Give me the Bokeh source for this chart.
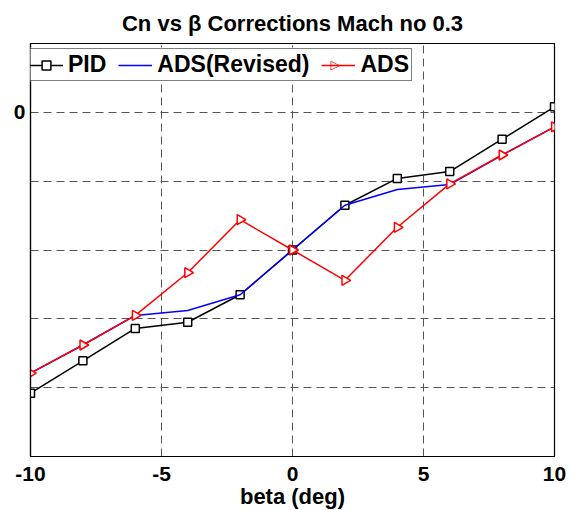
import numpy as np
from bokeh.plotting import figure
from bokeh.models import FixedTicker, Legend, LegendItem, Range1d, Label, BoxAnnotation
from bokeh.embed import file_html
from bokeh.resources import INLINE

# ---- data (y in grid units; only the 0 tick is labelled) ----
beta = [-10, -8, -6, -4, -2, 0, 2, 4, 6, 8, 10]
cn_pid = [-4.08, -3.61, -3.14, -3.05, -2.65, -2.0, -1.35, -0.96, -0.86, -0.39, 0.08]
cn_ads_revised = [-3.79, -3.38, -2.95, -2.88, -2.65, -2.0, -1.35, -1.12, -1.05, -0.62, -0.21]
cn_ads = [-3.79, -3.38, -2.95, -2.33, -1.56, -2.0, -2.44, -1.67, -1.04, -0.62, -0.21]
x_ticks = [-10, -5, 0, 5, 10]
x_tick_labels = {-10: "-10", -5: "-5", 0: "0", 5: "5", 10: "10"}
y_ticks = [-4, -3, -2, -1, 0]
y_tick_labels = {-4: "", -3: "", -2: "", -1: "", 0: "0"}

FONT = "Liberation Sans"

p = figure(frame_width=524, frame_height=413,
           x_range=Range1d(-10, 10), y_range=Range1d(-5, 1),
           output_backend="svg", toolbar_location=None,
           min_border_left=30, min_border_right=15,
           min_border_top=43, min_border_bottom=54,
           background_fill_color="white", border_fill_color="white")

p.title.text = "Cn vs \u03b2 Corrections Mach no 0.3"
p.title.align = "center"
p.title.text_font = FONT
p.title.text_font_size = "22px"
p.title.text_font_style = "bold"
p.title.text_color = "black"
p.title.standoff = 16

p.outline_line_color = "black"
p.outline_line_width = 1.2
p.outline_line_alpha = 1

for ax in (p.xaxis[0], p.yaxis[0]):
    ax.axis_line_color = "black"
    ax.axis_line_width = 1.2
    ax.major_tick_in = 0
    ax.major_tick_out = 0
    ax.minor_tick_in = 0
    ax.minor_tick_out = 0
    ax.major_label_text_font = FONT
    ax.major_label_text_font_size = "21px"
    ax.major_label_text_font_style = "bold"
    ax.major_label_text_color = "black"

p.xaxis.ticker = FixedTicker(ticks=x_ticks)
p.xaxis.major_label_overrides = x_tick_labels
p.xaxis.major_label_standoff = 10
p.xaxis.axis_label = "beta (deg)"
p.xaxis.axis_label_text_font = FONT
p.xaxis.axis_label_text_font_size = "22px"
p.xaxis.axis_label_text_font_style = "bold"
p.xaxis.axis_label_text_color = "black"
p.xaxis.axis_label_standoff = 0

p.yaxis.ticker = FixedTicker(ticks=y_ticks)
p.yaxis.major_label_overrides = y_tick_labels
p.yaxis.major_label_standoff = 5

for g in (p.xgrid[0], p.ygrid[0]):
    g.grid_line_color = "#555555"
    g.grid_line_dash = "8 5"
    g.grid_line_width = 1

r_pid = p.line(beta, cn_pid, line_color="black", line_width=1.5)
m_pid = p.scatter(beta, cn_pid, marker="square", size=8, line_color="black",
                  fill_color="white", line_width=1.5)
r_rev = p.line(beta, cn_ads_revised, line_color="blue", line_width=1.5)
r_ads = p.line(beta, cn_ads, line_color="red", line_width=1.5)
m_ads = p.scatter(beta, cn_ads, marker="triangle", size=10, angle=-np.pi / 2,
                  line_color="red", fill_color="white", line_width=1.5)

# white backing for the legend (legend itself is transparent so the symbol below shows)
backing = BoxAnnotation(left=-4, right=381, bottom=375, top=409,
                        left_units="screen", right_units="screen",
                        bottom_units="screen", top_units="screen",
                        fill_color="white", fill_alpha=1, line_color=None,
                        level="annotation")
p.add_layout(backing, "center")

# right-pointing triangle symbol for the ADS legend entry (Bokeh legends ignore marker angle)
tri = Label(x=305, y=392, x_units="screen", y_units="screen", text="\u25b7",
            text_font="DejaVu Sans", text_font_size="13px", text_color="red",
            text_align="center", text_baseline="middle", level="annotation")
p.add_layout(tri, "center")

legend = Legend(items=[
    LegendItem(label="PID", renderers=[r_pid, m_pid]),
    LegendItem(label="ADS(Revised)", renderers=[r_rev]),
    LegendItem(label="ADS", renderers=[r_ads]),
], location=(-4, 375), orientation="horizontal")
legend.label_text_font = FONT
legend.label_text_font_size = "23px"
legend.label_text_font_style = "bold"
legend.label_text_color = "black"
legend.glyph_width = 34
legend.glyph_height = 22
legend.label_height = 22
legend.label_standoff = 5
legend.spacing = 12
legend.padding = 2
legend.margin = 0
legend.border_line_color = "black"
legend.border_line_width = 1.2
legend.background_fill_alpha = 0
p.add_layout(legend, "center")

open("out.html", "w").write(file_html(p, INLINE))
